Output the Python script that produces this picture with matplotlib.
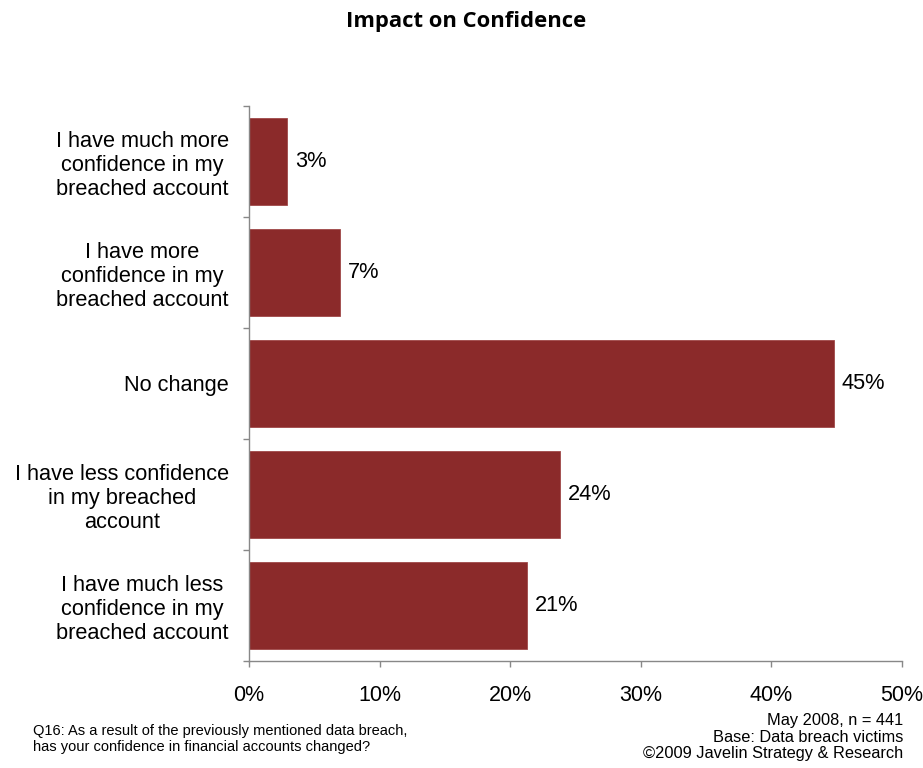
import matplotlib
matplotlib.use("Agg")
import matplotlib.pyplot as plt
import numpy as np

categories = [
    "I have much more\nconfidence in my\nbreached account",
    "I have more\nconfidence in my\nbreached account",
    "No change",
    "I have less confidence\nin my breached\naccount",
    "I have much less\nconfidence in my\nbreached account",
]
values = [2.9, 7.0, 44.8, 23.8, 21.3]
labels = ["3%", "7%", "45%", "24%", "21%"]
xticks = [0, 10, 20, 30, 40, 50]
xticklabels = ["0%", "10%", "20%", "30%", "40%", "50%"]

title = "Impact on Confidence"
note_left = "Q16: As a result of the previously mentioned data breach,\nhas your confidence in financial accounts changed?"
note_right = "May 2008, n = 441\nBase: Data breach victims\n\u00a92009 Javelin Strategy & Research"

plt.rcParams['font.family'] = ['Liberation Sans', 'DejaVu Sans']

fig = plt.figure(figsize=(9.23, 7.68), dpi=100)
ax = fig.add_axes([249/923, 1-661/768, (902-249)/923, (661-106)/768])

n = len(categories)
y = np.arange(n)
bar_color = "#8B2A2A"
ax.barh(y, values, height=0.775, color=bar_color, edgecolor="#A04848", linewidth=0.6, zorder=2)
for yi, v, lab in zip(y, values, labels):
    ax.text(v + 0.6, yi, lab, va="center", ha="left", fontsize=15.7)

ax.set_xlim(0, 50)
ax.set_ylim(n - 0.5, -0.5)
ax.set_xticks(xticks)
ax.set_xticklabels(xticklabels, fontsize=15.5)
ax.set_yticks(y)
ax.set_yticklabels(categories, fontsize=15.7, multialignment="center", linespacing=1.2)
ax.set_yticks(np.arange(n + 1) - 0.5, minor=True)

ax.tick_params(axis="y", which="major", length=0, pad=14.5)
ax.tick_params(axis="y", which="minor", length=4.5, color="#888888", width=1)
ax.tick_params(axis="x", which="major", length=4.5, color="#888888", width=1, pad=13)

for s in ["top", "right"]:
    ax.spines[s].set_visible(False)
for s in ["left", "bottom"]:
    ax.spines[s].set_color("#888888")
    ax.spines[s].set_linewidth(1)

fig.text(466/923, 1-21/768, title, ha="center", va="center", fontsize=15.8,
         fontweight="bold", family=["Open Sans", "DejaVu Sans"])
fig.text(33/923, 1-739/768, note_left, ha="left", va="center", fontsize=10.5, linespacing=1.2)
fig.text(903/923, 1-737/768, note_right, ha="right", va="center", fontsize=11.8, linespacing=1.1)

fig.savefig("out.png", dpi=100)
